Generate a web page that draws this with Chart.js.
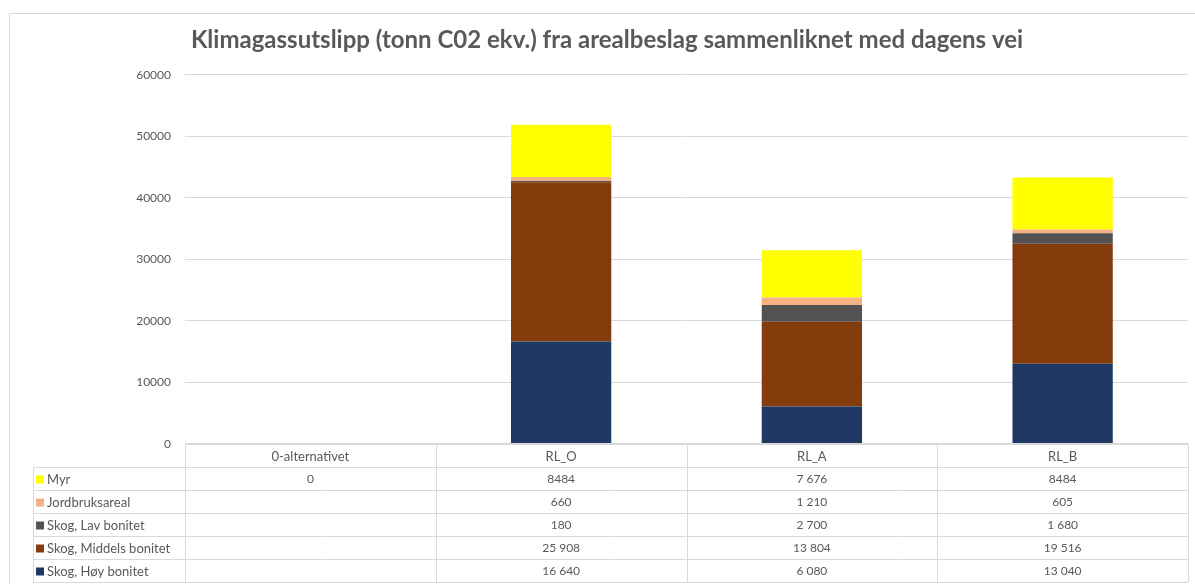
<!DOCTYPE html>
<html>
<head>
<meta charset="utf-8">
<script src="https://cdn.jsdelivr.net/npm/chart.js@4/dist/chart.umd.min.js"></script>
<style>
  html, body { margin: 0; padding: 0; background: #fff; }
  #wrap { width: 1195px; height: 584px; }
</style>
</head>
<body>
<div id="wrap"><canvas id="utslipp"></canvas></div>
<script>
const categories = ['0-alternativet', 'RL_O', 'RL_A', 'RL_B'];

// tonn CO2 ekv. per alternativ
const hoyBonitet = [null, 16640, 6080, 13040];
const middelsBonitet = [null, 25908, 13804, 19516];
const lavBonitet = [null, 180, 2700, 1680];
const jordbruksareal = [null, 660, 1210, 605];
const myr = [0, 8484, 7676, 8484];

const yMax = 60000;
const yStep = 10000;

// cells that were typed without thousand separator in the sheet
const plainCells = { 'Myr': [1, 3] };

const textColor = '#595959';
const lineColor = '#d9d9d9';
const fontFamily = 'Lato, "Open Sans", sans-serif';

const series = [
  { label: 'Skog, Høy bonitet', data: hoyBonitet, color: '#203864' },
  { label: 'Skog, Middels bonitet', data: middelsBonitet, color: '#843c0c' },
  { label: 'Skog, Lav bonitet', data: lavBonitet, color: '#525252' },
  { label: 'Jordbruksareal', data: jordbruksareal, color: '#f4b183' },
  { label: 'Myr', data: myr, color: '#ffff00' }
];

function formatCell(label, i, v) {
  if (v === null || v === undefined) return '';
  const s = String(v);
  if ((plainCells[label] || []).includes(i)) return s;
  return s.replace(/\B(?=(\d{3})+(?!\d))/g, ' ');
}

// Excel-style data table under the plot, columns follow the x scale
const dataTable = {
  id: 'dataTable',
  beforeDraw(chart) {
    const ctx = chart.ctx;
    ctx.save();
    ctx.strokeStyle = lineColor;
    ctx.lineWidth = 1;
    ctx.strokeRect(9.5, 13.5, chart.width - 9, chart.height);
    ctx.restore();
  },
  afterDraw(chart) {
    const { ctx, chartArea } = chart;
    const x = chart.scales.x;
    const colW = (chartArea.right - chartArea.left) / categories.length;
    const top = Math.round(chartArea.bottom);
    const headH = 23;
    const rowH = 23;
    const labelLeft = 33;
    const rows = series.slice().reverse();
    const bottom = top + headH + rows.length * rowH;

    ctx.save();
    ctx.strokeStyle = lineColor;
    ctx.lineWidth = 1;
    ctx.beginPath();
    ctx.moveTo(chartArea.left, top + 0.5);
    ctx.lineTo(chartArea.right, top + 0.5);
    for (let r = 0; r <= rows.length; r++) {
      const yy = top + headH + r * rowH + 0.5;
      ctx.moveTo(labelLeft, yy);
      ctx.lineTo(chartArea.right, yy);
    }
    for (let c = 0; c <= categories.length; c++) {
      const xx = Math.round(chartArea.left + c * colW) + 0.5;
      ctx.moveTo(xx, top);
      ctx.lineTo(xx, bottom);
    }
    ctx.moveTo(labelLeft + 0.5, top + headH);
    ctx.lineTo(labelLeft + 0.5, bottom);
    ctx.stroke();

    // axis line at zero
    ctx.lineWidth = 2;
    ctx.beginPath();
    ctx.moveTo(chartArea.left, top);
    ctx.lineTo(chartArea.right, top);
    ctx.stroke();

    ctx.fillStyle = textColor;
    ctx.textBaseline = 'middle';
    ctx.textAlign = 'center';
    ctx.font = '13px ' + fontFamily;
    categories.forEach((cat, i) => {
      ctx.fillText(cat, x.getPixelForValue(i), top + headH / 2 + 1);
    });

    rows.forEach((s, r) => {
      const cy = top + headH + r * rowH + rowH / 2 + 1;
      ctx.fillStyle = s.color;
      ctx.fillRect(labelLeft + 3, cy - 4, 8, 8);
      ctx.fillStyle = textColor;
      ctx.font = '13px ' + fontFamily;
      ctx.textAlign = 'left';
      ctx.fillText(s.label, labelLeft + 14, cy);
      ctx.font = '12px ' + fontFamily;
      ctx.textAlign = 'center';
      s.data.forEach((v, i) => {
        ctx.fillText(formatCell(s.label, i, v), x.getPixelForValue(i), cy);
      });
    });
    ctx.restore();
  }
};

new Chart(document.getElementById('utslipp'), {
  type: 'bar',
  data: {
    labels: categories,
    datasets: series.map(s => ({
      label: s.label,
      data: s.data,
      backgroundColor: s.color,
      borderWidth: 0,
      barPercentage: 0.4,
      categoryPercentage: 1.0
    }))
  },
  options: {
    responsive: true,
    maintainAspectRatio: false,
    animation: false,
    layout: { padding: { left: 26, right: 7, top: 0, bottom: 140 } },
    plugins: {
      legend: { display: false },
      tooltip: { enabled: false },
      title: {
        display: true,
        text: 'Klimagassutslipp (tonn C02 ekv.) fra arealbeslag sammenliknet med dagens vei',
        color: textColor,
        font: { family: fontFamily, size: 24, weight: 'bold', lineHeight: 1.2 },
        padding: { top: 26, bottom: 20 }
      }
    },
    scales: {
      x: {
        stacked: true,
        display: false
      },
      y: {
        stacked: true,
        min: 0,
        max: yMax,
        afterFit(scale) { scale.width = 159; },
        ticks: {
          stepSize: yStep,
          padding: 14,
          color: textColor,
          font: { family: fontFamily, size: 12 },
          callback: value => String(value)
        },
        grid: { color: lineColor, drawTicks: false },
        border: { display: false }
      }
    }
  },
  plugins: [dataTable]
});
</script>
</body>
</html>
